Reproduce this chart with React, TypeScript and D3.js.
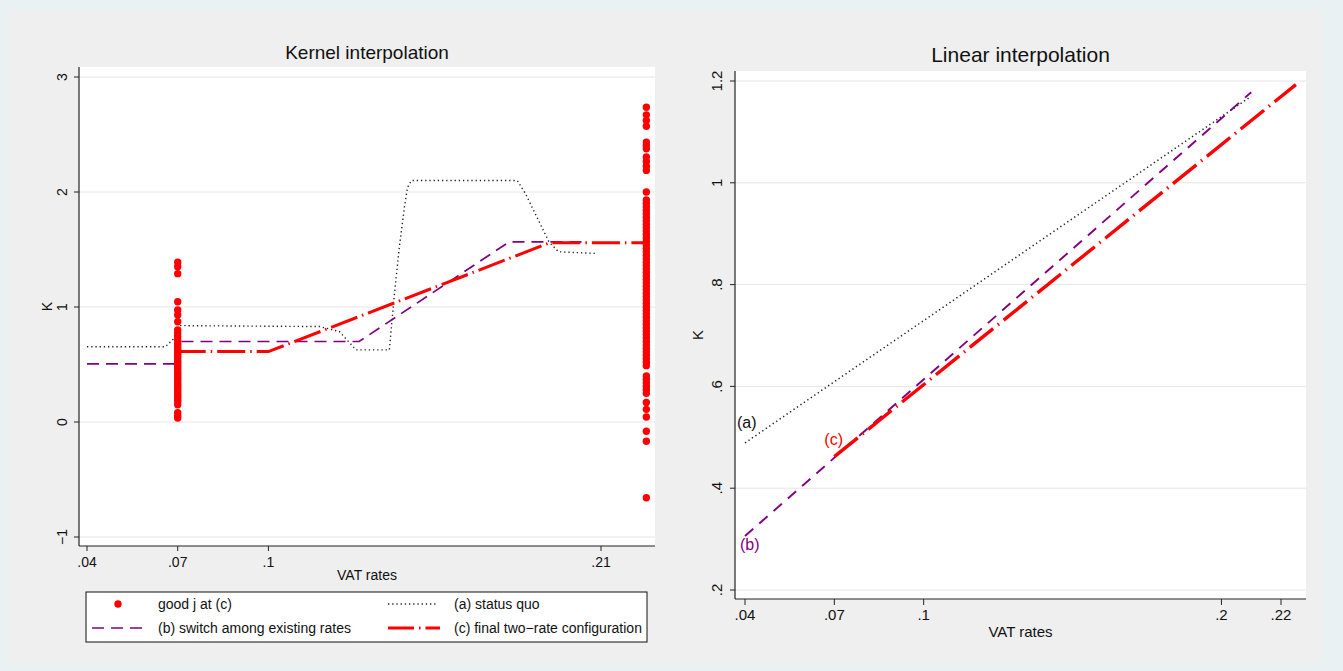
import React from 'react';
import * as d3 from 'd3';

// ---------- data ----------
const xTicksLeft = [0.04, 0.07, 0.1, 0.21];
const xTickLabelsLeft = ['.04', '.07', '.1', '.21'];
const yTicksLeft = [-1, 0, 1, 2, 3];
const yTickLabelsLeft = ['\u22121', '0', '1', '2', '3'];

const xTicksRight = [0.04, 0.07, 0.1, 0.2, 0.22];
const xTickLabelsRight = ['.04', '.07', '.1', '.2', '.22'];
const yTicksRight = [0.2, 0.4, 0.6, 0.8, 1, 1.2];
const yTickLabelsRight = ['.2', '.4', '.6', '.8', '1', '1.2'];

// Kernel interpolation (left panel)
const kernelStatusQuoX = [0.04, 0.066, 0.0685, 0.0705, 0.117, 0.1235, 0.129, 0.14, 0.1417, 0.1433, 0.145, 0.146, 0.1473, 0.1823, 0.185, 0.1928, 0.196, 0.208];
const kernelStatusQuoY = [0.655, 0.655, 0.72, 0.838, 0.83, 0.786, 0.627, 0.627, 1.12, 1.52, 1.87, 2.04, 2.1, 2.1, 1.986, 1.566, 1.48, 1.466];
const kernelSwitchX = [0.04, 0.0695, 0.0705, 0.13, 0.1796, 0.205];
const kernelSwitchY = [0.506, 0.506, 0.7, 0.7, 1.566, 1.566];
const kernelFinalX = [0.07, 0.1, 0.193, 0.225];
const kernelFinalY = [0.612, 0.612, 1.558, 1.558];

// goods j at (c)
const goodsRate07 = 0.07;
const goodsK07 = [1.39, 1.35, 1.29, 1.046, 0.974, 0.93, 0.872, 0.8, 0.77, 0.74, 0.71, 0.68, 0.66, 0.64, 0.62, 0.6, 0.58, 0.56, 0.54, 0.52, 0.5, 0.48, 0.46, 0.44, 0.42, 0.4, 0.38, 0.36, 0.34, 0.32, 0.3, 0.28, 0.26, 0.24, 0.22, 0.2, 0.18, 0.15, 0.08, 0.055, 0.035];
const goodsRate225 = 0.225;
const goodsK225 = [2.737, 2.671, 2.622, 2.572, 2.434, 2.405, 2.376, 2.304, 2.265, 2.225, 2.188, 2.0, 1.93, 1.9, 1.87, 1.84, 1.81, 1.78, 1.75, 1.72, 1.69, 1.66, 1.63, 1.6, 1.57, 1.54, 1.51, 1.48, 1.45, 1.42, 1.39, 1.36, 1.33, 1.3, 1.27, 1.24, 1.21, 1.18, 1.15, 1.12, 1.09, 1.06, 1.03, 1.0, 0.97, 0.94, 0.91, 0.88, 0.85, 0.82, 0.79, 0.76, 0.73, 0.7, 0.67, 0.64, 0.61, 0.58, 0.55, 0.52, 0.49, 0.4, 0.37, 0.34, 0.31, 0.28, 0.25, 0.17, 0.11, 0.043, -0.08, -0.168, -0.659];

// Linear interpolation (right panel)
const linearStatusQuoX = [0.04, 0.21];
const linearStatusQuoY = [0.489, 1.17];
const linearSwitchX = [0.04, 0.21];
const linearSwitchY = [0.306, 1.178];
const linearFinalX = [0.07, 0.225];
const linearFinalY = [0.462, 1.193];

const legendLabels = ['good j at (c)', '(a) status quo', '(b) switch among existing rates', '(c) final two\u2212rate configuration'];

// ---------- styles ----------
const FONT = '"Liberation Sans", Arial, Helvetica, sans-serif';
const RED = '#ff0000';
const PURPLE = '#800080';
const DOT = '#222222';
const GRID = '#e6e6e6';

const zip = (xs: number[], ys: number[]) => xs.map((x, i) => [x, ys[i]] as [number, number]);

export default function App() {
  // left panel
  const L = { x0: 79, x1: 655, y0: 67, y1: 546 };
  const xL = d3.scaleLinear().domain([0.04, 0.21]).range([87, 601]);
  const yL = d3.scaleLinear().domain([-1, 3]).range([537, 77]);
  const lineL = d3.line<[number, number]>().x(d => xL(d[0])).y(d => yL(d[1]));

  // right panel
  const R = { x0: 735, x1: 1306, y0: 71, y1: 599 };
  const xR = d3.scaleLinear().domain([0.04, 0.22]).range([745, 1281]);
  const yR = d3.scaleLinear().domain([0.2, 1.2]).range([590, 81]);
  const lineR = d3.line<[number, number]>().x(d => xR(d[0])).y(d => yR(d[1]));

  const dashPurple = '12,7';
  const dashRed = '28,5,1.5,5';
  const dashDot = '1.3,2.9';

  return (
    <svg width={1343} height={671} style={{ position: 'absolute', left: 0, top: 0 }} fontFamily={FONT}>
      <rect x={0} y={0} width={1343} height={671} fill="#e9f1f3" />
      <rect x={8} y={10} width={1315} height={653} fill="#efefef" />

      {/* ===== Left panel ===== */}
      <rect x={L.x0} y={L.y0} width={L.x1 - L.x0} height={L.y1 - L.y0} fill="#ffffff" />
      {yTicksLeft.map(t => (
        <line key={'gl' + t} x1={L.x0} x2={L.x1} y1={yL(t)} y2={yL(t)} stroke={GRID} strokeWidth={1} />
      ))}
      <text x={(L.x0 + L.x1) / 2} y={59} fontSize={19} textAnchor="middle" fill="#111">Kernel interpolation</text>

      <path d={lineL(zip(kernelStatusQuoX, kernelStatusQuoY)) || ''} fill="none" stroke={DOT} strokeWidth={1.4} strokeDasharray={dashDot} />
      <path d={lineL(zip(kernelSwitchX, kernelSwitchY)) || ''} fill="none" stroke={PURPLE} strokeWidth={1.7} strokeDasharray={dashPurple} />
      <path d={lineL(zip(kernelFinalX, kernelFinalY)) || ''} fill="none" stroke={RED} strokeWidth={3} strokeDasharray={dashRed} />

      {goodsK07.map((v, i) => (
        <circle key={'a' + i} cx={xL(goodsRate07)} cy={yL(v)} r={3.7} fill={RED} />
      ))}
      {goodsK225.map((v, i) => (
        <circle key={'b' + i} cx={xL(goodsRate225)} cy={yL(v)} r={3.7} fill={RED} />
      ))}

      {/* axes */}
      <line x1={L.x0} x2={L.x0} y1={L.y0} y2={L.y1} stroke="#222" strokeWidth={1.2} />
      <line x1={L.x0} x2={L.x1} y1={L.y1} y2={L.y1} stroke="#222" strokeWidth={1.2} />
      {yTicksLeft.map((t, i) => (
        <g key={'yl' + t}>
          <line x1={L.x0 - 5} x2={L.x0} y1={yL(t)} y2={yL(t)} stroke="#222" />
          <text x={67} y={yL(t)} fontSize={14} textAnchor="middle" transform={`rotate(-90, 67, ${yL(t)})`} fill="#111">{yTickLabelsLeft[i]}</text>
        </g>
      ))}
      {xTicksLeft.map((t, i) => (
        <g key={'xl' + t}>
          <line x1={xL(t)} x2={xL(t)} y1={L.y1} y2={L.y1 + 5} stroke="#222" />
          <text x={xL(t)} y={567} fontSize={14} textAnchor="middle" fill="#111">{xTickLabelsLeft[i]}</text>
        </g>
      ))}
      <text x={(L.x0 + L.x1) / 2} y={580} fontSize={14} textAnchor="middle" fill="#111">VAT rates</text>
      <text x={52} y={(L.y0 + L.y1) / 2} fontSize={14} textAnchor="middle" transform={`rotate(-90, 52, ${(L.y0 + L.y1) / 2})`} fill="#111">K</text>

      {/* legend */}
      <rect x={86} y={592} width={561} height={50} fill="#ffffff" stroke="#111" strokeWidth={1} />
      <circle cx={118} cy={604} r={3.7} fill={RED} />
      <text x={158} y={609} fontSize={14} fill="#111">{legendLabels[0]}</text>
      <line x1={388} x2={438} y1={604} y2={604} stroke={DOT} strokeWidth={1.4} strokeDasharray={dashDot} />
      <text x={454} y={609} fontSize={14} fill="#111">{legendLabels[1]}</text>
      <line x1={92} x2={144} y1={628} y2={628} stroke={PURPLE} strokeWidth={1.7} strokeDasharray={dashPurple} />
      <text x={158} y={633} fontSize={14} fill="#111">{legendLabels[2]}</text>
      <line x1={388} x2={440} y1={628} y2={628} stroke={RED} strokeWidth={3} strokeDasharray="26,5,1.5,5" />
      <text x={454} y={633} fontSize={14} fill="#111">{legendLabels[3]}</text>

      {/* ===== Right panel ===== */}
      <rect x={R.x0} y={R.y0} width={R.x1 - R.x0} height={R.y1 - R.y0} fill="#ffffff" />
      {yTicksRight.map(t => (
        <line key={'gr' + t} x1={R.x0} x2={R.x1} y1={yR(t)} y2={yR(t)} stroke={GRID} strokeWidth={1} />
      ))}
      <text x={(R.x0 + R.x1) / 2} y={62} fontSize={21} textAnchor="middle" fill="#111">Linear interpolation</text>

      <path d={lineR(zip(linearStatusQuoX, linearStatusQuoY)) || ''} fill="none" stroke={DOT} strokeWidth={1.5} strokeDasharray={dashDot} />
      <path d={lineR(zip(linearSwitchX, linearSwitchY)) || ''} fill="none" stroke={PURPLE} strokeWidth={1.9} strokeDasharray="11,8" />
      <path d={lineR(zip(linearFinalX, linearFinalY)) || ''} fill="none" stroke={RED} strokeWidth={3.4} strokeDasharray="30,6,1.5,6" />

      <text x={xR(linearStatusQuoX[0]) - 8} y={yR(linearStatusQuoY[0]) - 15} fontSize={16} fill="#111">(a)</text>
      <text x={xR(linearSwitchX[0]) - 5} y={yR(linearSwitchY[0]) + 14} fontSize={16} fill={PURPLE}>(b)</text>
      <text x={xR(linearFinalX[0]) - 10} y={yR(linearFinalY[0]) - 12} fontSize={16} fill={RED}>(c)</text>

      <line x1={R.x0} x2={R.x0} y1={R.y0} y2={R.y1} stroke="#222" strokeWidth={1.2} />
      <line x1={R.x0} x2={R.x1} y1={R.y1} y2={R.y1} stroke="#222" strokeWidth={1.2} />
      {yTicksRight.map((t, i) => (
        <g key={'yr' + t}>
          <line x1={R.x0 - 5} x2={R.x0} y1={yR(t)} y2={yR(t)} stroke="#222" />
          <text x={722} y={yR(t)} fontSize={15} textAnchor="middle" transform={`rotate(-90, 722, ${yR(t)})`} fill="#111">{yTickLabelsRight[i]}</text>
        </g>
      ))}
      {xTicksRight.map((t, i) => (
        <g key={'xr' + t}>
          <line x1={xR(t)} x2={xR(t)} y1={R.y1} y2={R.y1 + 6} stroke="#222" />
          <text x={xR(t)} y={620} fontSize={15} textAnchor="middle" fill="#111">{xTickLabelsRight[i]}</text>
        </g>
      ))}
      <text x={(R.x0 + R.x1) / 2} y={637} fontSize={15} textAnchor="middle" fill="#111">VAT rates</text>
      <text x={703} y={(R.y0 + R.y1) / 2} fontSize={15} textAnchor="middle" transform={`rotate(-90, 703, ${(R.y0 + R.y1) / 2})`} fill="#111">K</text>
    </svg>
  );
}
